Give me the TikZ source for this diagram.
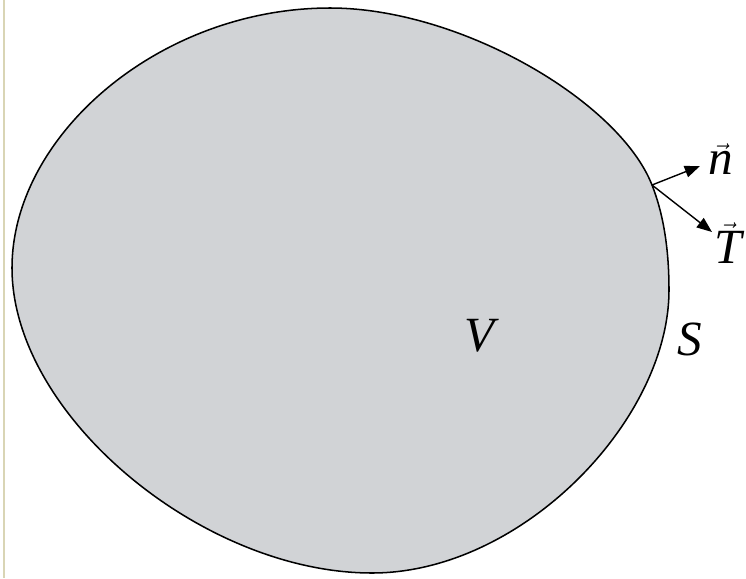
\documentclass[tikz,border=0pt]{standalone}
\usepackage{fontspec}
\setmainfont{Liberation Serif}
\usetikzlibrary{arrows.meta}
\definecolor{bodyGray}{HTML}{D1D3D6}
\definecolor{edgeTan} {HTML}{D9D5B5}
\begin{document}
\begin{tikzpicture}[x=0.03cm,y=-0.03cm,
  vecarrow/.style={line width=1.2pt, -{Triangle[length=13pt,width=10pt]}},
  lbl/.style={font=\fontsize{42}{48}\selectfont, inner sep=0pt}]
  \useasboundingbox (0,0) rectangle (746,578);
  \draw[edgeTan, line width=1.5pt] (4,0) -- (4,578);
  % the body V with surface S
  \coordinate (top) at (330,8);
  \coordinate (p) at (652,185);
  \coordinate (right) at (669,290);
  \coordinate (bottom) at (372,573);
  \coordinate (left) at (12,268);
  \draw[line width=1.3pt, fill=bodyGray]
    (top) .. controls (460,8) and (619,101) .. (p)
          .. controls (665,218) and (669,255) .. (right)
          .. controls (669,420) and (522,573) .. (bottom)
          .. controls (202,573) and (12,415) .. (left)
          .. controls (12,135) and (160,8) .. (top) -- cycle;
  \coordinate (ntip) at (700,166);
  \coordinate (Ttip) at (712,232);
  \draw[vecarrow] (p) -- (ntip);
  \draw[vecarrow] (p) -- (Ttip);
  \node[lbl] (nlab) at (721,159) {$\vec{\mathit{n}}$};
  \node[lbl] (Tlab) at (728,243) {$\vec{\mathit{T}}$};
  \node[lbl] (Vlab) at (482,336) {\textit{V}};
  \node[lbl] (Slab) at (690,339) {\textit{S}};
\end{tikzpicture}
\end{document}
